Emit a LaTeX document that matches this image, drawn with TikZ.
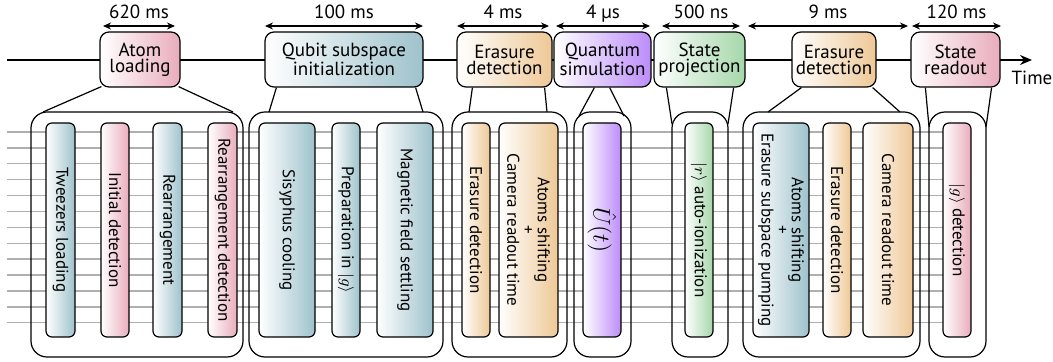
\documentclass[tikz,border=0pt]{standalone}
\usepackage{fontspec}
\setmainfont{PT Sans}
\usetikzlibrary{arrows.meta,positioning}
\definecolor{bluebox}{RGB}{158,194,204}
\definecolor{pinkbox}{RGB}{233,172,188}
\definecolor{orangebox}{RGB}{238,200,150}
\definecolor{purplebox}{RGB}{188,140,250}
\definecolor{greenbox}{RGB}{165,215,170}
\definecolor{gridgray}{RGB}{175,175,175}
\tikzset{
  topbox/.style={draw, line width=0.6pt, rounded corners=4.5pt, minimum height=27.5pt, align=center, inner sep=1pt},
  innerbox/.style={draw, line width=0.6pt, rounded corners=3pt, rotate=-90, minimum width=107pt, align=center, inner sep=0pt, font=\fontsize{8.5}{7.6}\selectfont},
  outerbox/.style={draw, line width=0.6pt, rounded corners=8pt, minimum height=122.5pt, inner sep=0pt, outer sep=0pt},
  tint/.style={left color=white, right color=#1},
  span/.style={{Stealth[length=4pt,width=3.5pt]}-{Stealth[length=4pt,width=3.5pt]}, line width=0.6pt},
  link/.style={line width=0.6pt},
  gridline/.style={gridgray, line width=0.7pt}
}
\begin{document}
\begin{tikzpicture}[x=0.5pt,y=-0.5pt,font=\fontsize{9.5}{8}\selectfont]
\useasboundingbox (0,0) rectangle (1053,362);
% register lines behind the steps
\foreach \n in {0,...,12} \draw[gridline] (7,{132+15.9*\n}) -- (957,{132+15.9*\n});
% time axis
\coordinate (start) at (7,60);
\coordinate (tip) at (1032,60);
\draw[-{Stealth[length=6pt,width=5pt]}, line width=0.6pt] (start) -- (tip);
\node[below=2pt of tip] (time) {Time};
% sequence steps
\node[topbox, tint=pinkbox, minimum width=40pt] (atom) at (140,59.5) {Atom\\loading};
\node[topbox, tint=bluebox, minimum width=79pt] (qubit) at (344,59.5) {Qubit subspace\\initialization};
\node[topbox, tint=orangebox, minimum width=47.5pt] (erase) at (504.5,59.5) {Erasure\\detection};
\node[topbox, tint=purplebox, minimum width=48.5pt] (quantum) at (602.5,59.5) {Quantum\\simulation};
\node[topbox, tint=greenbox, minimum width=45.5pt] (proj) at (699.5,59.5) {State\\projection};
\node[topbox, tint=orangebox, minimum width=42pt] (erasetwo) at (834,59.5) {Erasure\\detection};
\node[topbox, tint=pinkbox, minimum width=44.5pt] (readout) at (955.5,59.5) {State\\readout};
% durations
\foreach \l/\r/\t [count=\i] in {103/175/620 ms, 265/423/100 ms, 457/549/4 ms, 556/650/4 µs, 662/740/500 ns, 748/908/9 ms, 912/1001/120 ms}{
  \coordinate (d\i l) at (\l,26);
  \coordinate (d\i r) at (\r,26);
  \draw[span] (d\i l) -- node[above, text depth=0pt] (d\i) {\t} (d\i r);
}
% groups
\node[outerbox, minimum width=106pt] (g1) at (137,234.5) {};
\node[outerbox, minimum width=97pt] (g2) at (346,234.5) {};
\node[outerbox, minimum width=57.5pt] (g3) at (509.5,234.5) {};
\node[outerbox, minimum width=28.5pt] (g4) at (602.5,234.5) {};
\node[outerbox, minimum width=28pt] (g5) at (700,234.5) {};
\node[outerbox, minimum width=88.5pt] (g6) at (831.5,234.5) {};
\node[outerbox, minimum width=28.5pt] (g7) at (957.5,234.5) {};
% substeps
\node[innerbox, tint=bluebox, minimum height=14.5pt] (tweezers) at (60.5,230) {Tweezers loading};
\node[innerbox, tint=pinkbox, minimum height=14pt] (initial) at (115,230) {Initial detection};
\node[innerbox, tint=bluebox, minimum height=14.5pt] (rearr) at (167.5,230) {Rearrangement};
\node[innerbox, tint=pinkbox, minimum height=14.5pt] (rearrdet) at (222.5,230) {Rearrangement detection};
\node[innerbox, tint=bluebox, minimum height=28pt] (sisyphus) at (287,230) {Sisyphus cooling};
\node[innerbox, tint=bluebox, minimum height=14pt] (prep) at (346,230) {Preparation in $|g\rangle$};
\node[innerbox, tint=bluebox, minimum height=28pt] (field) at (405,230) {Magnetic field settling};
\node[innerbox, tint=orangebox, minimum height=14pt] (erasedet) at (476,230) {Erasure detection};
\node[innerbox, tint=orangebox, minimum height=29.5pt] (shiftcam) at (528.5,230) {Atoms shifting\\+\\Camera readout time};
\node[innerbox, tint=purplebox, minimum height=19pt, font=\large] (unitary) at (602,230) {$\hat{U}(t)$};
\node[innerbox, tint=greenbox, minimum height=14pt] (ionize) at (699,230) {$|r\rangle$ auto-ionization};
\node[innerbox, tint=bluebox, minimum height=28pt] (shiftpump) at (781,230) {Atoms shifting\\+\\Erasure subspace pumping};
\node[innerbox, tint=orangebox, minimum height=14pt] (erasedettwo) at (837,230) {Erasure detection};
\node[innerbox, tint=orangebox, minimum height=25pt] (camera) at (888,230) {Camera readout time};
\node[innerbox, tint=pinkbox, minimum height=14pt] (gdet) at (957,230) {$|g\rangle$ detection};
% zoom lines
\draw[link] ([xshift=1pt,yshift=0.5pt]atom.south west) -- ([xshift=6pt]g1.north west);
\draw[link] ([xshift=-1pt,yshift=0.5pt]atom.south east) -- ([xshift=-5pt]g1.north east);
\draw[link] ([xshift=6pt]qubit.south west) -- ([xshift=10pt]g2.north west);
\draw[link] ([xshift=-4pt]qubit.south east) -- ([xshift=-10pt]g2.north east);
\draw[link] ([xshift=8pt]erase.south west) -- ([xshift=8.5pt]g3.north west);
\draw[link] ([xshift=-4pt]erase.south east) -- ([xshift=-10pt]g3.north east);
\draw[link] ([xshift=20.5pt]quantum.south west) -- ([xshift=2.5pt,yshift=-2pt]g4.north west);
\draw[link] ([xshift=-21pt]quantum.south east) -- ([xshift=-3.5pt,yshift=-2pt]g4.north east);
\draw[link] ([xshift=6.5pt]proj.south west) -- ([yshift=-6pt]g5.north west);
\draw[link] ([xshift=-6pt]proj.south east) -- ([yshift=-6pt]g5.north east);
\draw[link] ([xshift=5pt]erasetwo.south west) -- ([xshift=12.5pt]g6.north west);
\draw[link] ([xshift=-2pt]erasetwo.south east) -- ([xshift=-10pt]g6.north east);
\draw[link] ([xshift=7.5pt]readout.south west) -- ([yshift=-7.5pt]g7.north west);
\draw[link] ([xshift=-4.5pt]readout.south east) -- ([yshift=-7.5pt]g7.north east);
\end{tikzpicture}
\end{document}
